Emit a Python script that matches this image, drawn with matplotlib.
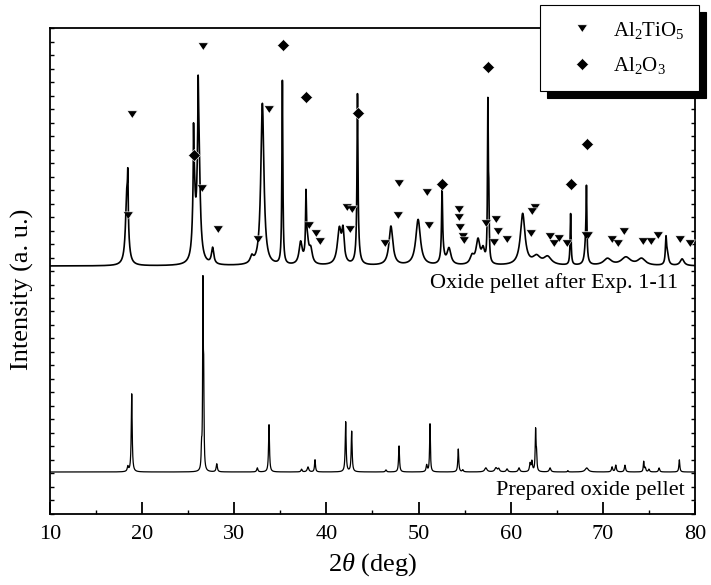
import matplotlib.pyplot as plt
import numpy as np

plt.rcParams['font.family'] = ['Liberation Serif', 'DejaVu Serif']
plt.rcParams['mathtext.fontset'] = 'custom'
plt.rcParams['mathtext.rm'] = 'Liberation Serif'
plt.rcParams['mathtext.it'] = 'Liberation Serif:italic'
plt.rcParams['mathtext.default'] = 'regular'

# pastilla despues del Exp. 1-11: posicion (2theta), altura, ancho de cada pico
pos_exp = [18.35, 18.45, 25.62, 25.58, 26.12, 26.08, 27.65, 31.9, 33.05, 35.22,
           37.2, 37.78, 37.9, 38.3, 41.4, 41.8, 43.37, 43.4, 47.0, 49.95,
           52.55, 52.6, 53.3, 55.8, 56.45, 57.0, 57.52, 57.62, 61.3, 62.8,
           64.0, 66.5, 68.22, 68.15, 70.5, 72.5, 74.2, 76.85, 77.0, 78.6]
alt_exp = [5.5, 3.1, 6.5, 3.5, 10.5, 3.5, 1.2, 0.5, 12.0, 13.6,
           1.6, 4.0, 1.8, 1.0, 2.6, 2.2, 11.2, 1.5, 2.9, 3.4,
           4.8, 1.0, 1.2, 0.6, 1.8, 1.0, 11.4, 4.0, 3.8, 0.6,
           0.6, 3.8, 4.6, 1.6, 0.5, 0.6, 0.5, 1.8, 0.8, 0.5]
anc_exp = [0.35, 0.08, 0.3, 0.05, 0.35, 0.06, 0.3, 0.4, 0.4, 0.12,
           0.4, 0.1, 0.4, 0.4, 0.5, 0.3, 0.12, 0.4, 0.5, 0.6,
           0.12, 0.4, 0.5, 0.5, 0.5, 0.4, 0.1, 0.1, 0.6, 1.0,
           1.0, 0.12, 0.1, 0.3, 1.0, 1.2, 1.0, 0.15, 0.3, 0.5]
base_exp = 18.37

# pastilla preparada
pos_prep = [18.45, 18.87, 26.45, 26.6, 26.68, 28.1, 32.5, 33.77, 37.3, 38.0,
            38.76, 42.09, 42.74, 46.46, 47.88, 50.88, 51.24, 54.31, 54.8, 57.3,
            58.4, 58.7, 59.6, 60.9, 62.1, 62.3, 62.7, 62.8, 64.27, 66.2,
            68.25, 71.0, 71.4, 72.4, 74.43, 74.6, 75.0, 76.1, 78.3]
alt_prep = [0.37, 5.78, 1.5, 13.2, 6.0, 0.6, 0.3, 3.5, 0.2, 0.37,
            0.9, 3.7, 3.0, 0.15, 1.93, 0.5, 3.55, 1.7, 0.15, 0.3,
            0.3, 0.22, 0.22, 0.3, 0.6, 0.75, 3.0, 1.2, 0.3, 0.1,
            0.3, 0.37, 0.5, 0.5, 0.75, 0.3, 0.2, 0.3, 0.9]
anc_prep = [0.15, 0.12, 0.1, 0.08, 0.08, 0.15, 0.15, 0.12, 0.15, 0.2,
            0.12, 0.12, 0.12, 0.15, 0.12, 0.15, 0.1, 0.12, 0.15, 0.3,
            0.3, 0.2, 0.2, 0.2, 0.15, 0.15, 0.1, 0.1, 0.2, 0.1,
            0.4, 0.15, 0.15, 0.15, 0.1, 0.15, 0.15, 0.15, 0.12]
base_prep = 3.11

# marcas de fases
tri_x = [18.87, 18.43, 26.57, 26.46, 28.20, 32.54, 33.80, 38.14, 38.84, 39.30,
         42.20, 42.74, 42.56, 46.36, 47.88, 47.74, 50.88, 51.17, 54.39, 54.42,
         54.50, 54.79, 54.96, 57.32, 58.40, 58.65, 58.19, 59.57, 62.64, 62.34,
         62.17, 64.27, 64.70, 65.27, 66.14, 68.17, 68.42, 70.96, 71.61, 72.33,
         74.39, 75.23, 76.02, 78.37, 79.46]
tri_y = [29.63, 22.15, 34.69, 24.17, 21.09, 20.35, 29.98, 21.41, 20.84, 20.24,
         22.76, 22.57, 21.09, 20.10, 24.50, 22.15, 23.87, 21.41, 22.59, 22.02,
         21.24, 20.59, 20.30, 21.58, 21.85, 20.99, 20.17, 20.37, 22.76, 22.44,
         20.79, 20.59, 20.05, 20.42, 20.05, 20.67, 20.67, 20.35, 20.05, 20.96,
         20.22, 20.22, 20.67, 20.35, 20.05]
dia_x = [25.63, 35.25, 37.78, 43.39, 52.58, 57.57, 66.51, 68.25]
dia_y = [26.59, 34.74, 30.91, 29.68, 24.42, 33.13, 24.42, 27.39]


def patron(x, pos, alt, anc, base):
    y = np.full_like(x, base)
    for p, h, w in zip(pos, alt, anc):
        y += h * (w / 2) ** 2 / ((x - p) ** 2 + (w / 2) ** 2)
    return y


x = np.arange(10, 80.001, 0.01)

fig = plt.figure(figsize=(7.11, 5.85), dpi=100)
ax = fig.add_axes([0.0703, 0.1214, 0.9072, 0.8307])

ax.plot(x, patron(x, pos_exp, alt_exp, anc_exp, base_exp), color='black', lw=1.2)
ax.plot(x, patron(x, pos_prep, alt_prep, anc_prep, base_prep), color='black', lw=0.9)

tri = [(-1, 0.75), (1, 0.75), (0, -0.75)]
ax.plot(tri_x, tri_y, ls='none', marker=tri, ms=7, color='black',
        mec='white', mew=0.4, zorder=3, label='Al$_2$TiO$_5$')
ax.plot(dia_x, dia_y, ls='none', marker='D', ms=6.2, color='black',
        mec='white', mew=0.4, zorder=3, label='Al$_2$O$_3$')

ax.text(78.16, 17.1, 'Oxide pellet after Exp. 1-11', ha='right', va='center', fontsize=16)
ax.text(78.9, 1.73, 'Prepared oxide pellet', ha='right', va='center', fontsize=16)

ax.set_xlim(10, 80)
ax.set_ylim(0, 36)
ax.set_xticks(np.arange(10, 81, 10))
ax.set_xticks(np.arange(15, 80, 10), minor=True)
ax.set_yticks(np.arange(0, 37, 1))
ax.tick_params(axis='x', which='major', direction='in', length=9, width=1.3, labelsize=16, pad=8)
ax.tick_params(axis='x', which='minor', direction='in', length=3, width=1.0)
ax.tick_params(axis='y', direction='in', length=3, width=1.0, left=True, right=True,
               labelleft=False)
for s in ax.spines.values():
    s.set_linewidth(1.3)

ax.set_xlabel(r'2$\mathit{\theta}$ (deg)', fontsize=19, labelpad=5)
ax.set_ylabel('Intensity (a. u.)', fontsize=19)
ax.yaxis.set_label_coords(-0.025, 0.463)

leg = ax.legend(loc='upper right', bbox_to_anchor=(0.983, 0.9915),
                bbox_transform=fig.transFigure, borderaxespad=0, fontsize=15,
                frameon=True, fancybox=False, framealpha=1, edgecolor='black',
                shadow={'ox': 5, 'oy': -5, 'color': 'black', 'alpha': 1},
                handletextpad=0.2, labelspacing=0.7, borderpad=0.7, handlelength=2.6)
leg.get_frame().set_linewidth(0.8)

fig.savefig('out.png', dpi=100)
